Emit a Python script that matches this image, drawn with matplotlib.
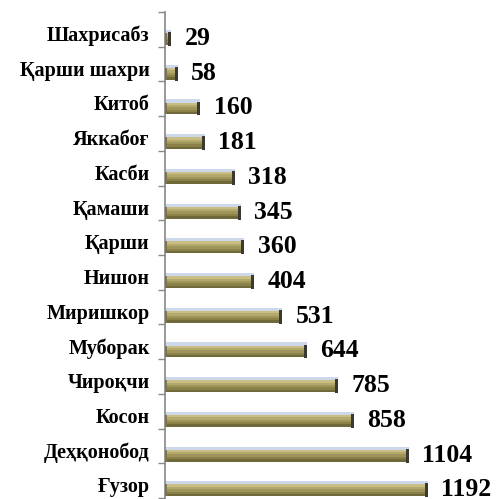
import numpy as np
import matplotlib.pyplot as plt

# districts, top to bottom as in the chart
districts = ['Шахрисабз', 'Қарши шахри', 'Китоб', 'Яккабоғ', 'Касби', 'Қамаши',
             'Қарши', 'Нишон', 'Миришкор', 'Муборак', 'Чироқчи', 'Косон',
             'Деҳқонобод', 'Ғузор']
values = [29, 58, 160, 181, 318, 345, 360, 404, 531, 644, 785, 858, 1104, 1192]

serif = ['Liberation Serif', 'DejaVu Serif']

fig = plt.figure(figsize=(4.96, 4.99), dpi=100)
ax = fig.add_axes([165 / 496, 1 / 499, 331 / 496, 486 / 499])
ax.set_xlim(0, 1500)
ax.set_ylim(len(districts), 0)

y = np.arange(len(districts))
yc = y + 0.78   # bars sit low in each band (3d depth look)
h = 0.34
vals = np.array(values)

# light blue top face
ax.barh(yc - h / 2 - 0.04, vals, height=0.1, left=0, color='#cdd8ea', zorder=2)
# body with a rough vertical gradient
shades = ['#c9bf86', '#b3a96c', '#9f955a', '#8a8149', '#6f683a']
sh = h / len(shades)
for k, c in enumerate(shades):
    ax.barh(yc - h / 2 + sh * (k + 0.5), vals, height=sh, left=0, color=c,
            zorder=3)
# dark end cap
cap = 14
ax.barh(yc, np.full(len(vals), cap), height=h + 0.06, left=vals - cap,
        color='#3a3a32', zorder=4)
# softer left end
ax.barh(yc, np.full(len(vals), 8), height=h, left=0, color='#7d7548', zorder=4)

for yi, v in zip(y, values):
    ax.text(v + 60, yi + 0.95, str(v), ha='left', va='baseline',
            fontsize=18.5, fontweight='bold', family=serif)

# category labels
ax.set_yticks(y + 0.62)
ax.set_yticklabels(districts, fontsize=14.5, fontweight='bold', family=serif)
ax.tick_params(axis='y', which='major', length=0, pad=11)
ax.set_yticks(np.arange(len(districts) + 1), minor=True)
ax.tick_params(axis='y', which='minor', length=5, color='#888888', width=1)
ax.set_xticks([])

for s in ['top', 'right', 'bottom']:
    ax.spines[s].set_visible(False)
ax.spines['left'].set_color('#888888')
ax.spines['left'].set_linewidth(1.2)

fig.savefig('out.png', dpi=100)
